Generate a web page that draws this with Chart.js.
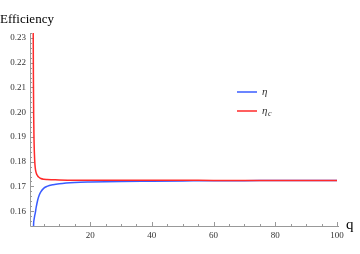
<!DOCTYPE html>
<html>
<head>
<meta charset="utf-8">
<script src="https://cdn.jsdelivr.net/npm/chart.js@4.4.1/dist/chart.umd.min.js"></script>
<style>
  html, body { margin: 0; padding: 0; background: #fff; }
  #wrap { width: 360px; height: 254px; }
</style>
</head>
<body>
<div id="wrap"><canvas id="effChart"></canvas></div>
<script>
// values
const qValues = [1.5, 1.6, 1.7, 1.8, 2, 2.2, 2.5, 3, 3.5, 4, 5, 6, 8, 10, 15, 20, 30, 40, 50, 60, 70, 80, 90, 100];
const eta = [0.146, 0.152, 0.1555, 0.1565, 0.158, 0.1592, 0.1615, 0.1645, 0.1665, 0.1678, 0.1693, 0.1700, 0.1707, 0.1711, 0.1716, 0.1718, 0.1720, 0.1721, 0.1722, 0.1723, 0.1723, 0.1724, 0.1724, 0.1724];
const etaC = [0.245, 0.215, 0.198, 0.189, 0.181, 0.1775, 0.1755, 0.1742, 0.1736, 0.1732, 0.1729, 0.1728, 0.1727, 0.1726, 0.1725, 0.1725, 0.1725, 0.1725, 0.1725, 0.1724, 0.1724, 0.1724, 0.1724, 0.1724];
const xTicks = [20, 40, 60, 80, 100];
const yTicks = [0.16, 0.17, 0.18, 0.19, 0.20, 0.21, 0.22, 0.23];

const blue = '#3a5cff';
const red = '#ff2a2a';
const serif = "'Liberation Serif', 'DejaVu Serif', serif";

const toPoints = (ys) => qValues.map((q, i) => ({ x: q, y: ys[i] }));

// Mathematica-style axes: inward major/minor ticks
const axesPlugin = {
    id: 'mmaAxes',
    beforeDatasetsDraw(chart) {
        const { ctx, chartArea: a, scales: { x, y } } = chart;
        ctx.save();
        ctx.strokeStyle = '#999';
        ctx.lineWidth = 1;
        ctx.beginPath();
        ctx.moveTo(a.left + 0.5, a.top);
        ctx.lineTo(a.left + 0.5, a.bottom + 0.5);
        ctx.lineTo(a.right + 2, a.bottom + 0.5);
        ctx.stroke();

        ctx.beginPath();
        for (let v = 5; v <= 100; v += 5) {
            const px = Math.round(x.getPixelForValue(v)) + 0.5;
            const len = v % 20 === 0 ? 4 : 2;
            ctx.moveTo(px, a.bottom);
            ctx.lineTo(px, a.bottom - len);
        }
        for (let k = 78; k <= 116; k++) {
            const v = k * 0.002;
            if (v < y.min || v > y.max) continue;
            const py = Math.round(y.getPixelForValue(v)) + 0.5;
            const len = k % 5 === 0 ? 4 : 2;
            ctx.moveTo(a.left, py);
            ctx.lineTo(a.left + len, py);
        }
        ctx.stroke();
        ctx.restore();
    },
    afterDraw(chart) {
        const { ctx, chartArea: a } = chart;
        ctx.save();
        ctx.fillStyle = '#000';
        ctx.font = '13px ' + serif;
        ctx.textBaseline = 'alphabetic';
        ctx.fillText('Efficiency', 0, 23);
        ctx.font = '15px ' + serif;
        ctx.fillText('q', 346, a.bottom + 3);

        // legend
        const items = [
            { color: blue, y: 92, main: 'η', sub: '' },
            { color: red, y: 111, main: 'η', sub: 'c' }
        ];
        items.forEach(it => {
            ctx.strokeStyle = it.color;
            ctx.lineWidth = 1.5;
            ctx.beginPath();
            ctx.moveTo(237, it.y);
            ctx.lineTo(257, it.y);
            ctx.stroke();
            ctx.fillStyle = '#333';
            ctx.font = 'italic 11px ' + serif;
            ctx.textBaseline = 'middle';
            ctx.fillText(it.main, 262, it.y);
            if (it.sub) {
                ctx.font = 'italic 8px ' + serif;
                ctx.fillText(it.sub, 268, it.y + 3);
            }
        });
        ctx.restore();
    }
};

new Chart(document.getElementById('effChart'), {
    type: 'line',
    data: {
        datasets: [
            {
                label: 'η_c',
                data: toPoints(etaC),
                borderColor: red,
                borderWidth: 1.5,
                pointRadius: 0,
                cubicInterpolationMode: 'monotone',
                order: 0
            },
            {
                label: 'η',
                data: toPoints(eta),
                borderColor: blue,
                borderWidth: 1.5,
                pointRadius: 0,
                cubicInterpolationMode: 'monotone',
                order: 1
            }
        ]
    },
    options: {
        responsive: true,
        maintainAspectRatio: false,
        animation: false,
        layout: { padding: { left: 0, right: 23, top: 33, bottom: 0 } },
        plugins: {
            legend: { display: false },
            tooltip: { enabled: false }
        },
        scales: {
            x: {
                type: 'linear',
                min: 0.5,
                max: 100,
                grid: { display: false, drawTicks: false },
                border: { display: false },
                afterBuildTicks: (s) => { s.ticks = xTicks.map(v => ({ value: v })); },
                afterFit: (s) => { s.height = 28; },
                ticks: {
                    color: '#333',
                    padding: 4,
                    maxRotation: 0,
                    font: { family: serif, size: 9 }
                }
            },
            y: {
                type: 'linear',
                min: 0.154,
                max: 0.232,
                grid: { display: false, drawTicks: false },
                border: { display: false },
                afterBuildTicks: (s) => { s.ticks = yTicks.map(v => ({ value: v })); },
                afterFit: (s) => { s.width = 30; },
                ticks: {
                    color: '#333',
                    padding: 4,
                    font: { family: serif, size: 9 },
                    callback: (v) => v.toFixed(2)
                }
            }
        }
    },
    plugins: [axesPlugin]
});
</script>
</body>
</html>
